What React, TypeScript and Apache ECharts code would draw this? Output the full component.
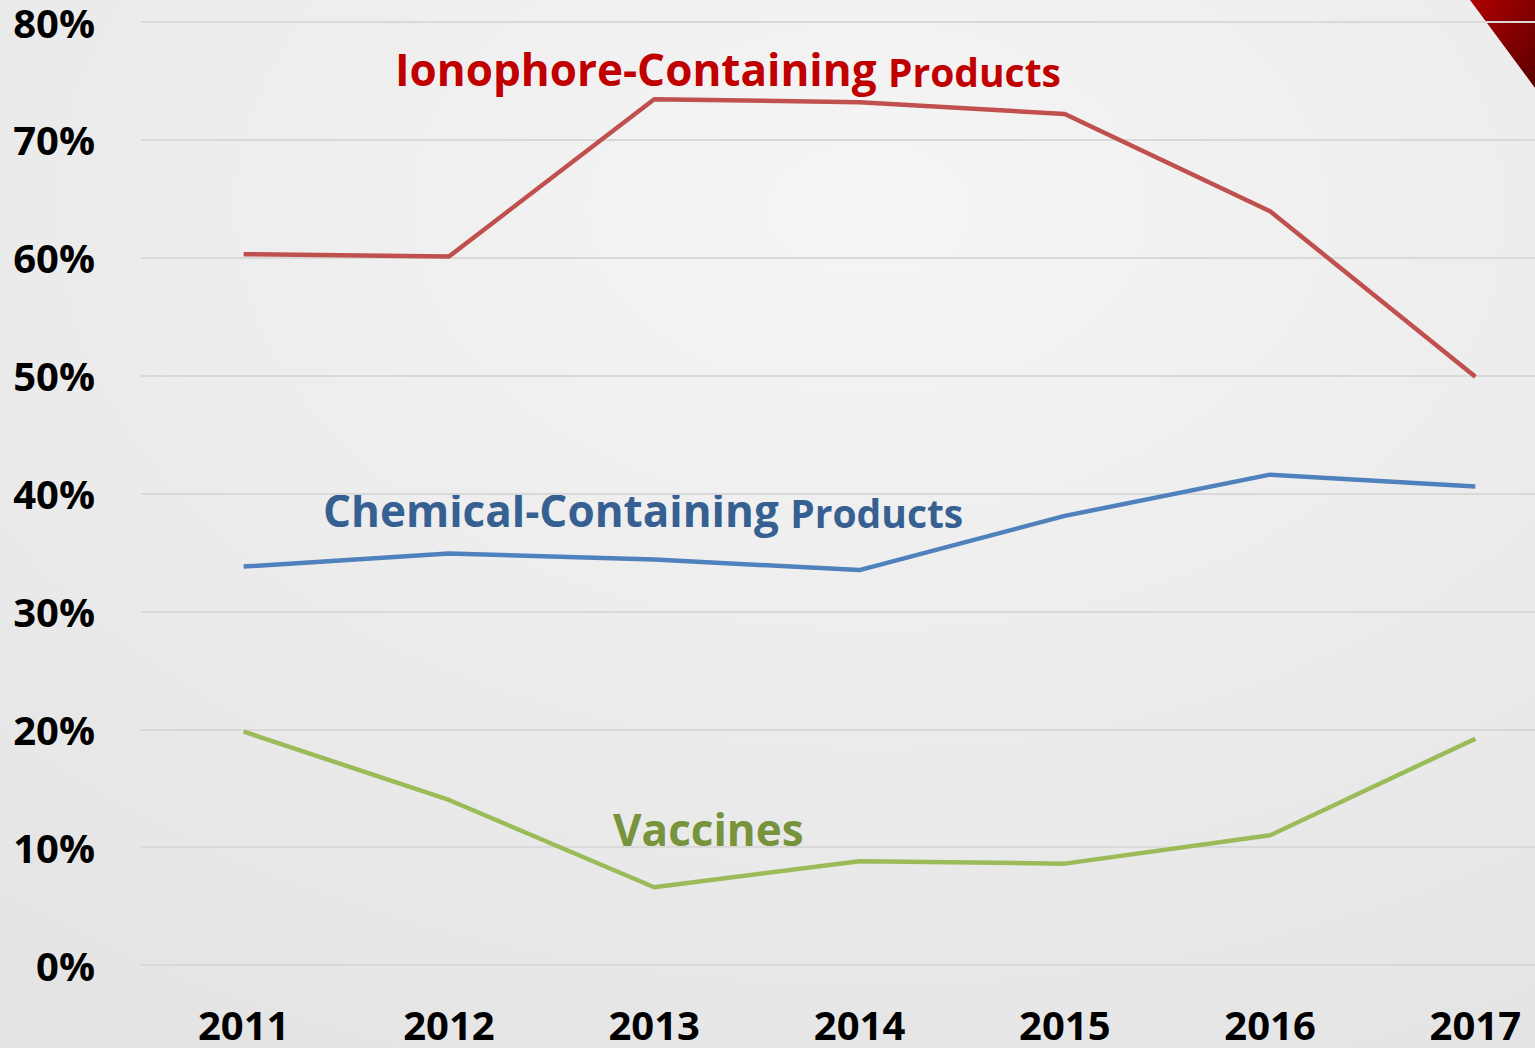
import React, { useEffect, useRef } from "react";
import * as echarts from "echarts";

const years = ["2011", "2012", "2013", "2014", "2015", "2016", "2017"];
const ionophore = [60.3, 60.1, 73.45, 73.2, 72.2, 63.95, 49.9];
const chemical = [33.8, 34.9, 34.4, 33.5, 38.1, 41.6, 40.6];
const vaccines = [19.8, 14.0, 6.6, 8.8, 8.6, 11.0, 19.2];
const yTicks = [0, 10, 20, 30, 40, 50, 60, 70, 80];

const FONT = "'Open Sans', 'DejaVu Sans', sans-serif";

export default function App() {
  const ref = useRef<HTMLDivElement>(null);
  useEffect(() => {
    if (!ref.current) return;
    const chart = echarts.init(ref.current, null, { renderer: "svg" });
    chart.setOption({
      animation: false,
      backgroundColor: {
        type: "radial",
        x: 0.55,
        y: 0.2,
        r: 0.9,
        colorStops: [
          { offset: 0, color: "#f5f5f5" },
          { offset: 1, color: "#e4e4e4" },
        ],
      },
      grid: { left: 141, top: 22, width: 1437, height: 943, containLabel: false },
      xAxis: {
        type: "category",
        data: years,
        boundaryGap: true,
        axisLine: { show: false },
        axisTick: { show: false },
        axisLabel: {
          color: "#000",
          fontFamily: FONT,
          fontWeight: "bold",
          fontSize: 40,
          lineHeight: 40,
          margin: 39,
        },
      },
      yAxis: {
        type: "value",
        min: 0,
        max: 80,
        interval: 10,
        axisLine: { show: false },
        axisTick: { show: false },
        splitLine: { lineStyle: { color: "#d9d9d9", width: 2 } },
        axisLabel: {
          color: "#000",
          fontFamily: FONT,
          fontWeight: "bold",
          fontSize: 40,
          lineHeight: 40,
          margin: 46,
          formatter: (v: number) => (yTicks.includes(v) ? v + "%" : ""),
        },
      },
      series: [
        {
          name: "Ionophore-Containing Products",
          type: "line",
          data: ionophore,
          symbol: "none",
          lineStyle: { color: "#c0504d", width: 4.5 },
        },
        {
          name: "Chemical-Containing Products",
          type: "line",
          data: chemical,
          symbol: "none",
          lineStyle: { color: "#4f81bd", width: 4.5 },
        },
        {
          name: "Vaccines",
          type: "line",
          data: vaccines,
          symbol: "none",
          lineStyle: { color: "#9bbb59", width: 4.5 },
        },
      ],
      graphic: [
        {
          type: "polygon",
          shape: { points: [[1470, 0], [1535, 0], [1535, 88]] },
          style: {
            fill: {
              type: "linear",
              x: 0, y: 0, x2: 1, y2: 1,
              colorStops: [
                { offset: 0, color: "#b00000" },
                { offset: 1, color: "#5a0000" },
              ],
            },
          },
          z: -10,
        },
        {
          type: "text",
          left: 395,
          top: 47,
          style: {
            text: "{a|Ionophore-Containing }{b|Products}",
            rich: {
              a: { fontFamily: FONT, fontWeight: "bold", fontSize: 44, fill: "#c00000", color: "#c00000", verticalAlign: "bottom" },
              b: { fontFamily: FONT, fontWeight: "bold", fontSize: 39, fill: "#c00000", color: "#c00000", verticalAlign: "bottom" },
            },
          },
        },
        {
          type: "text",
          left: 323,
          top: 488,
          style: {
            text: "{a|Chemical-Containing }{b|Products}",
            rich: {
              a: { fontFamily: FONT, fontWeight: "bold", fontSize: 44, fill: "#376092", color: "#376092", verticalAlign: "bottom" },
              b: { fontFamily: FONT, fontWeight: "bold", fontSize: 39, fill: "#376092", color: "#376092", verticalAlign: "bottom" },
            },
          },
        },
        {
          type: "text",
          left: 613,
          top: 807,
          style: {
            text: "Vaccines",
            fontFamily: FONT,
            fontWeight: "bold",
            fontSize: 44,
            fill: "#77933c",
          },
        },
      ],
    });
    return () => chart.dispose();
  }, []);
  return (
    <div style={{ position: "absolute", left: 0, top: 0, width: 1535, height: 1048, overflow: "hidden" }}>
      <div ref={ref} style={{ width: 1580, height: 1048 }} />
    </div>
  );
}
